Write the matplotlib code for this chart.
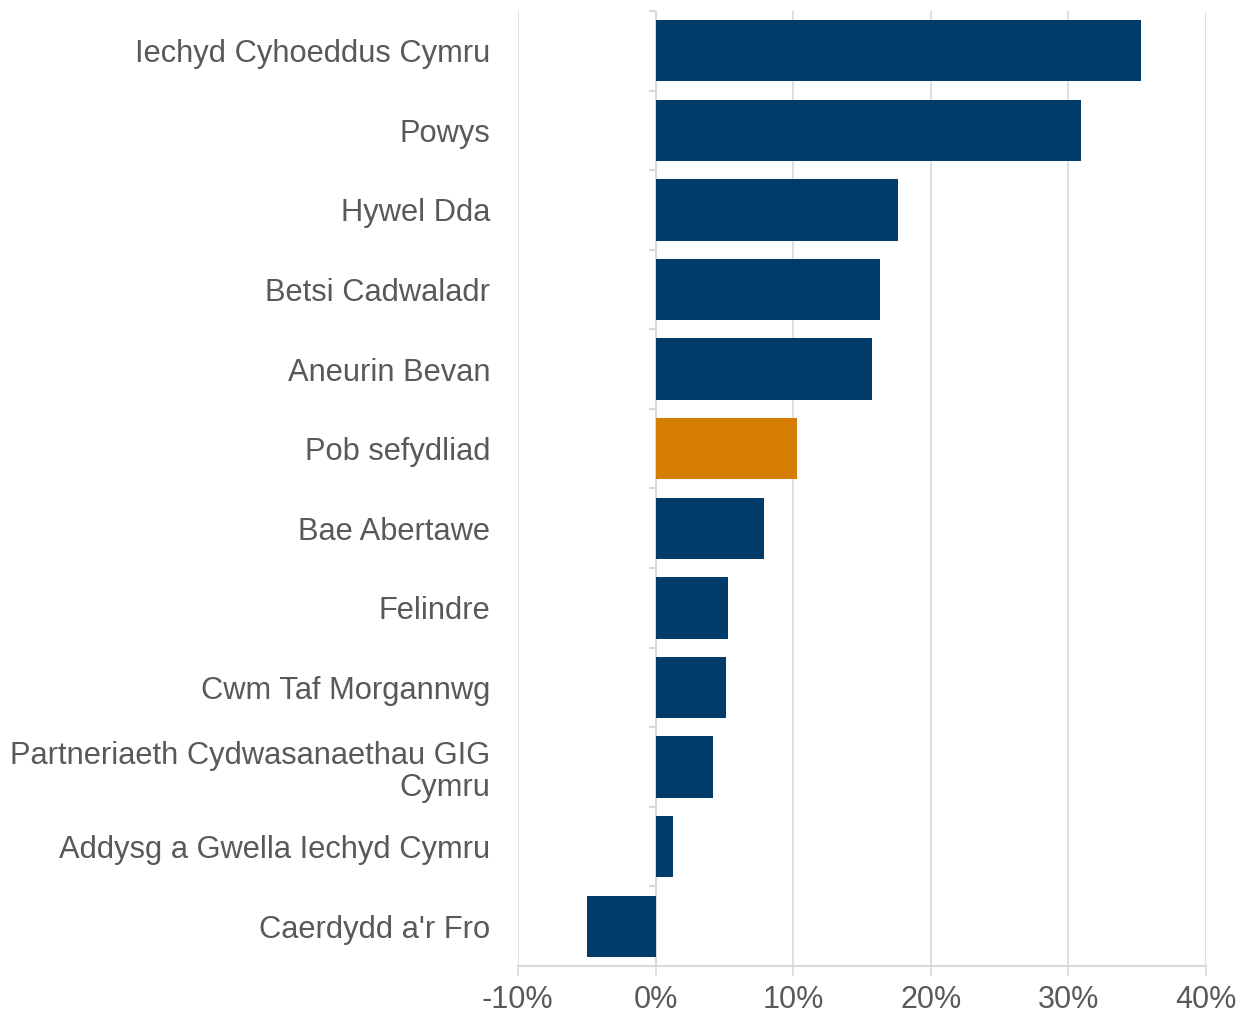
import matplotlib
matplotlib.use('Agg')
import matplotlib.pyplot as plt
from matplotlib.ticker import FuncFormatter

# Data (percent)
labels = ['Iechyd Cyhoeddus Cymru', 'Powys', 'Hywel Dda', 'Betsi Cadwaladr',
          'Aneurin Bevan', 'Pob sefydliad', 'Bae Abertawe', 'Felindre',
          'Cwm Taf Morgannwg', 'Partneriaeth Cydwasanaethau GIG\nCymru',
          'Addysg a Gwella Iechyd Cymru', "Caerdydd a'r Fro"]
values = [35.25, 30.95, 17.65, 16.3, 15.7, 10.25, 7.85, 5.25, 5.15, 4.2, 1.25, -4.95]
highlight = 'Pob sefydliad'

navy = '#003B69'
orange = '#D57D00'
grey_txt = '#595959'
grid_c = '#D9D9D9'

plt.rcParams['font.family'] = ['Liberation Sans', 'DejaVu Sans']

fig = plt.figure(figsize=(12.39, 10.16), dpi=100)
ax = fig.add_axes([0.418, 0.0492, 0.9734 - 0.418, 0.9892 - 0.0492])

pos = list(range(len(labels)))
colors = [orange if l == highlight else navy for l in labels]
ax.barh(pos, values, height=0.77, color=colors, zorder=3)

ax.set_xlim(-10, 40)
ax.set_ylim(len(labels) - 0.5, -0.5)
ax.set_xticks(range(-10, 41, 10))
ax.xaxis.set_major_formatter(FuncFormatter(lambda v, p: f'{v:.0f}%'))
ax.grid(axis='x', color=grid_c, linewidth=1.2, zorder=0)

# zero line with category separator ticks
ax.axvline(0, color=grid_c, linewidth=1.5, zorder=2)
bounds = [i - 0.5 for i in range(len(labels) + 1)]
ax.hlines(bounds, -0.5, 0, color=grid_c, linewidth=1.5, zorder=2, clip_on=False)

ax.set_yticks(pos)
ax.set_yticklabels(labels, linespacing=1.1)
ax.tick_params(axis='y', length=0, pad=20, labelsize=22.2, labelcolor=grey_txt)
ax.tick_params(axis='x', length=7, width=1.2, color=grid_c, pad=7,
               labelsize=22, labelcolor=grey_txt)

for s in ['top', 'right', 'left']:
    ax.spines[s].set_visible(False)
ax.spines['bottom'].set_color(grid_c)
ax.spines['bottom'].set_linewidth(1.5)

fig.savefig('out.png', dpi=100)
